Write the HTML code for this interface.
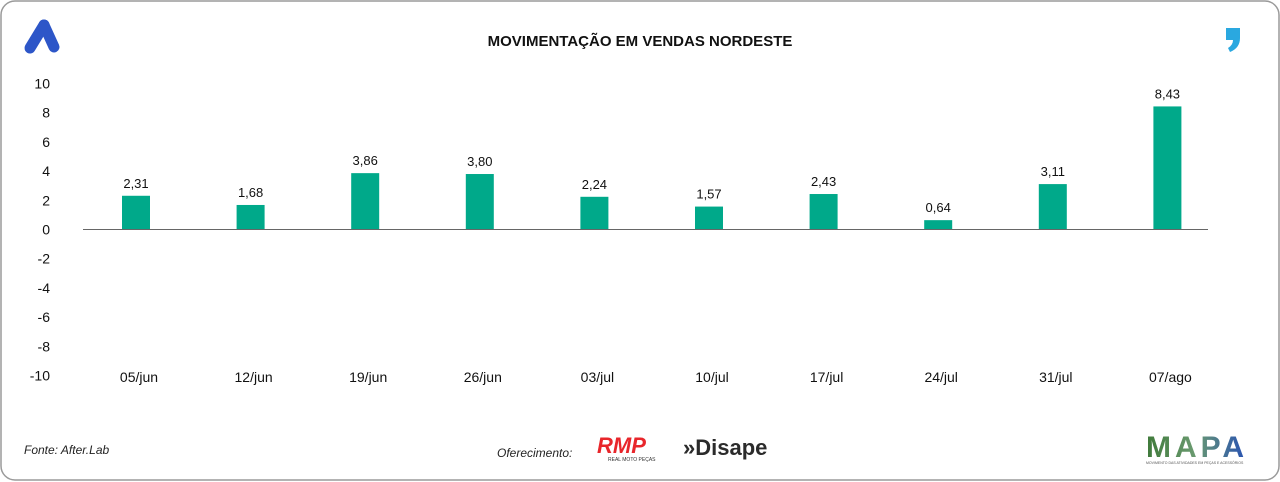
<!DOCTYPE html>
<html><head><meta charset="utf-8"><style>
html,body{margin:0;padding:0;background:#fff;width:1280px;height:482px;overflow:hidden;font-family:"Liberation Sans",sans-serif}
</style></head><body>
<svg width="1280" height="482" xmlns="http://www.w3.org/2000/svg">
<rect x="1" y="1" width="1278" height="479" rx="14" fill="#fff" stroke="#9a9a9a" stroke-width="1.5"/>
<g>
<path d="M30 48 L44 25" stroke="#2d56c8" stroke-width="11" stroke-linecap="round"/>
<path d="M44 25 L54 47" stroke="#2d56c8" stroke-width="11" stroke-linecap="round"/>
</g>
<path d="M1226 28 h14 v10 q0 10 -10 14 l-2 -4 q5 -3 5 -8 h-7z" fill="#2aa8e0"/>
<text x="640" y="46" text-anchor="middle" font-size="15" font-weight="bold" fill="#111">MOVIMENTAÇÃO EM VENDAS NORDESTE</text>
<g id="yaxis"></g>
<g id="bars"></g>
<line x1="83" y1="229.5" x2="1208" y2="229.5" stroke="#666" stroke-width="1"/>
<g id="xaxis"></g>
<text x="24" y="454" font-size="12" font-style="italic" fill="#222">Fonte: After.Lab</text>
<text x="497" y="457" font-size="12" font-style="italic" fill="#222">Oferecimento:</text>
<g>
<text x="597" y="453" font-size="22" font-weight="bold" font-style="italic" fill="#e8262b">RMP</text>
<text x="608" y="461" font-size="5" fill="#333">REAL MOTO PEÇAS</text>
</g>
<g>
<text x="683" y="455" font-size="22" font-weight="bold" fill="#2b2b2b">»Disape</text>
</g>
<g>
<defs><linearGradient id="mg" x1="0" x2="1"><stop offset="0" stop-color="#3f7a3a"/><stop offset="0.5" stop-color="#6a9a70"/><stop offset="1" stop-color="#2b55b0"/></linearGradient></defs>
<text x="1146" y="457" font-size="30" font-weight="bold" fill="url(#mg)" textLength="98">MAPA</text>
<text x="1146" y="464" font-size="3.5" fill="#555">MOVIMENTO DAS ATIVIDADES EM PEÇAS E ACESSÓRIOS</text>
</g>
</svg>
<script>
const categories=["05/jun","12/jun","19/jun","26/jun","03/jul","10/jul","17/jul","24/jul","31/jul","07/ago"];
const values=[2.31,1.68,3.86,3.80,2.24,1.57,2.43,0.64,3.11,8.43];
const labels=["2,31","1,68","3,86","3,80","2,24","1,57","2,43","0,64","3,11","8,43"];
const yTicks=[10,8,6,4,2,0,-2,-4,-6,-8,-10];
const NS="http://www.w3.org/2000/svg";
function y(v){return 229.5-v*14.6;}
function x(i){return 136+114.6*i;}
const ya=document.getElementById('yaxis'),ba=document.getElementById('bars'),xa=document.getElementById('xaxis');
yTicks.forEach(t=>{const e=document.createElementNS(NS,'text');


e.setAttribute('x',50);e.setAttribute('y',y(t)+5);e.setAttribute('text-anchor','end');e.setAttribute('font-size','14');e.setAttribute('fill','#111');e.textContent=t;ya.appendChild(e);});
values.forEach((v,i)=>{const r=document.createElementNS(NS,'rect');


const t=y(Math.max(v,0)),b=y(Math.min(v,0));
r.setAttribute('x',x(i)-14);r.setAttribute('width',28);r.setAttribute('y',t);r.setAttribute('height',b-t);r.setAttribute('fill','#00a98a');ba.appendChild(r);
const l=document.createElementNS(NS,'text');


l.setAttribute('x',x(i));l.setAttribute('y',t-8);l.setAttribute('text-anchor','middle');l.setAttribute('font-size','13');l.setAttribute('fill','#111');l.textContent=labels[i];ba.appendChild(l);
const c=document.createElementNS(NS,'text');


c.setAttribute('x',x(i)+3);c.setAttribute('y',382);c.setAttribute('text-anchor','middle');c.setAttribute('font-size','14');c.setAttribute('fill','#111');c.textContent=categories[i];xa.appendChild(c);});
</script>
</body></html>
